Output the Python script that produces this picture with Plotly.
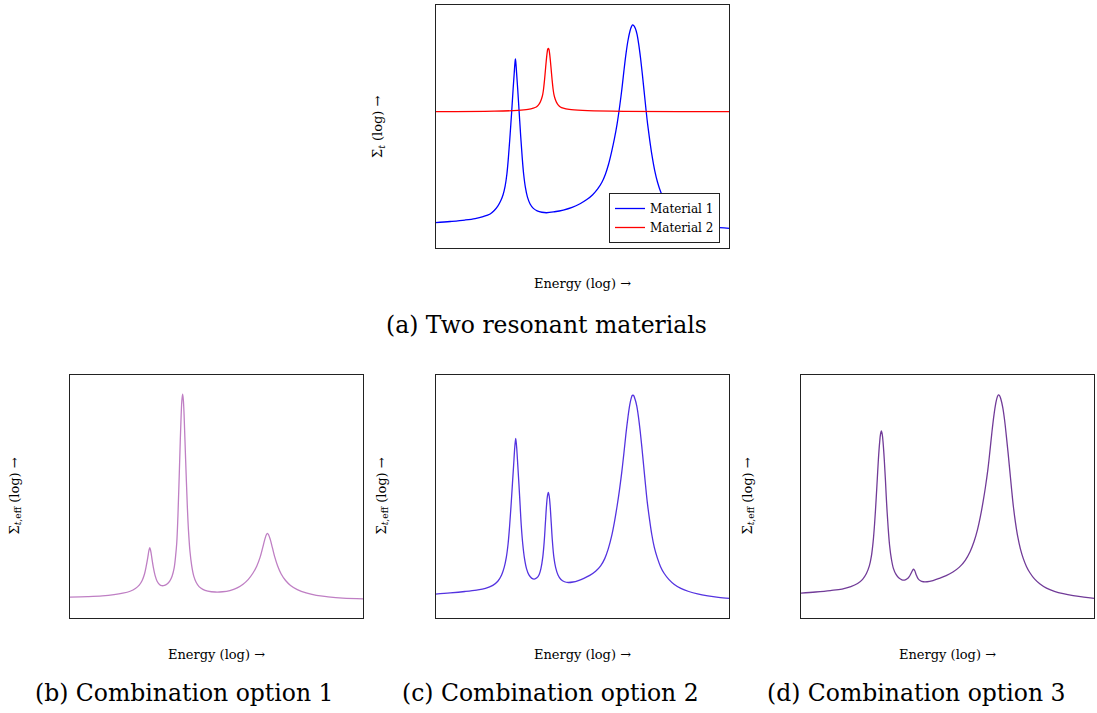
import plotly.graph_objects as go

# Normalised log-energy (0-100) and log cross-section (0-100) readings.

# (a) Material 1
m1_energy = [0, 5.0, 10.0, 13.5, 16.2, 18.6, 20.0, 21.2, 22.2, 23.0, 23.7, 24.3, 24.8, 25.3,
             25.9, 26.4, 26.8, 27.0, 27.2, 27.4, 27.6, 28.0, 28.5, 29.0, 29.5, 30.0, 30.6,
             31.3, 32.2, 33.3, 34.6, 36.2, 37.8, 40.5, 43.5, 46.5, 49.2, 51.5, 53.5, 55.2,
             56.6, 57.8, 58.9, 59.9, 60.9, 61.8, 62.6, 63.4, 64.1, 64.8, 65.5, 66.2, 66.7,
             67.1, 67.5, 68.0, 68.6, 69.2, 69.8, 70.4, 71.0, 71.6, 72.2, 72.9, 73.7, 74.6,
             75.6, 76.7, 78.0, 79.6, 81.6, 84.0, 87.0, 90.5, 94.5, 100]
m1_sigma = [10.5, 11.0, 11.6, 12.2, 13.0, 14.1, 15.5, 17.3, 19.5, 22.0, 25.5, 30.5, 37.0, 45.0,
            55.5, 65.0, 72.0, 75.5, 77.7, 75.5, 72.0, 65.0, 55.5, 46.0, 37.5, 30.5, 25.0,
            21.0, 18.2, 16.4, 15.4, 14.8, 14.6, 15.0, 15.7, 16.8, 18.3, 20.0, 22.0, 24.4,
            27.0, 30.3, 34.5, 39.4, 45.0, 51.0, 57.5, 65.0, 72.5, 79.5, 85.2, 89.2, 91.0,
            91.7, 91.4, 90.3, 87.8, 83.5, 78.0, 71.5, 64.5, 57.5, 51.0, 44.5, 38.0, 32.0,
            27.0, 23.0, 19.6, 16.7, 14.3, 12.4, 10.8, 9.6, 8.8, 8.2]

# (a) Material 2
m2_energy = [0, 20.0, 28.0, 31.5, 33.3, 34.3, 35.0, 35.6, 36.1, 36.5, 36.8, 37.1, 37.4, 37.7,
             38.0, 38.2, 38.4, 38.6, 38.8, 39.1, 39.4, 39.7, 40.0, 40.3, 40.7, 41.2, 41.8,
             42.5, 43.5, 45.5, 50.0, 60.0, 100]
m2_sigma = [56.1, 56.3, 56.6, 57.0, 57.5, 58.0, 58.8, 59.9, 61.4, 63.2, 65.6, 69.0, 73.0, 77.0,
            80.3, 81.7, 82.1, 81.7, 80.3, 77.0, 73.0, 69.0, 65.6, 63.2, 61.4, 59.9, 58.8,
            58.0, 57.5, 57.0, 56.6, 56.3, 56.1]

# (b) Combination option 1
b_energy = [0, 6.0, 11.0, 15.0, 18.0, 20.5, 22.3, 23.6, 24.6, 25.4, 26.0, 26.5, 26.9, 27.2,
            27.5, 27.9, 28.4, 29.0, 29.7, 30.5, 31.3, 32.2, 33.1, 34.0, 34.8, 35.5, 36.0,
            36.4, 36.8, 37.2, 37.6, 37.9, 38.15, 38.4, 38.65, 38.9, 39.2, 39.6, 40.0, 40.4,
            40.9, 41.5, 42.2, 43.0, 44.0, 45.3, 47.0, 49.5, 52.0, 54.5, 57.0, 59.0, 60.8,
            62.4, 63.7, 64.8, 65.7, 66.4, 66.9, 67.3, 67.7, 68.3, 69.0, 69.8, 70.8, 72.0,
            73.5, 75.2, 77.5, 80.5, 84.0, 88.0, 93.0, 100]
b_sigma = [8.7, 8.9, 9.2, 9.7, 10.3, 11.1, 12.2, 13.6, 15.5, 18.2, 21.5, 24.8, 27.8, 29.0,
           27.8, 24.8, 21.0, 17.6, 15.2, 13.9, 13.4, 13.5, 14.1, 15.3, 17.3, 20.6, 25.5,
           31.0, 42.0, 57.0, 73.0, 83.5, 89.5, 92.0, 89.5, 83.5, 73.0, 59.0, 46.0, 36.0,
           27.5, 21.5, 17.3, 14.8, 13.0, 11.9, 11.2, 10.8, 10.9, 11.4, 12.5, 14.0, 16.0,
           18.6, 21.5, 25.0, 29.0, 32.3, 34.2, 34.9, 34.3, 32.3, 29.0, 25.2, 21.5, 18.2,
           15.5, 13.5, 11.8, 10.4, 9.4, 8.8, 8.3, 8.0]

# (c) Combination option 2
c_energy = [0, 5.0, 10.0, 14.0, 17.0, 19.5, 21.2, 22.5, 23.4, 24.1, 24.7, 25.2, 25.7, 26.2,
            26.6, 27.0, 27.3, 27.6, 28.0, 28.4, 28.8, 29.2, 29.7, 30.3, 31.0, 31.8, 32.7,
            33.6, 34.5, 35.3, 35.9, 36.5, 37.0, 37.4, 37.8, 38.1, 38.4, 38.7, 39.0, 39.4,
            39.8, 40.3, 40.9, 41.7, 42.7, 43.9, 45.2, 46.8, 48.6, 50.5, 52.5, 54.5, 56.2,
            57.6, 58.8, 59.9, 60.9, 61.8, 62.6, 63.4, 64.1, 64.8, 65.5, 66.1, 66.6, 67.0,
            67.4, 67.9, 68.5, 69.1, 69.7, 70.3, 70.9, 71.5, 72.1, 72.8, 73.6, 74.5, 75.5,
            76.6, 77.8, 79.4, 81.3, 83.5, 86.2, 89.2, 92.7, 96.3, 100]
c_sigma = [9.9, 10.4, 11.0, 11.6, 12.3, 13.5, 15.2, 17.8, 21.0, 25.0, 30.5, 37.5, 46.0, 55.5,
           63.0, 70.5, 73.9, 70.5, 63.0, 55.0, 46.5, 38.0, 30.5, 24.5, 20.3, 17.8, 16.5,
           16.1, 16.6, 18.0, 20.5, 25.0, 31.5, 39.0, 46.5, 50.2, 51.7, 50.2, 46.5, 39.0,
           31.5, 25.0, 20.8, 17.8, 15.9, 15.0, 14.7, 14.9, 15.5, 16.4, 17.6, 19.3, 21.5,
           24.5, 28.5, 33.5, 39.5, 46.0, 52.5, 60.0, 67.5, 75.5, 82.5, 87.5, 90.3, 91.5,
           91.5, 90.0, 87.2, 82.5, 76.5, 69.5, 62.0, 54.5, 47.5, 41.0, 34.5, 29.0, 24.8,
           21.2, 18.5, 16.0, 13.9, 12.3, 11.0, 10.0, 9.2, 8.6, 8.2]

# (d) Combination option 3
d_energy = [0, 5.0, 10.0, 14.0, 17.0, 19.3, 21.0, 22.3, 23.3, 24.0, 24.6, 25.1, 25.6, 26.0,
            26.4, 26.8, 27.1, 27.4, 27.7, 28.0, 28.4, 28.8, 29.2, 29.7, 30.2, 30.8, 31.5,
            32.4, 33.4, 34.4, 35.3, 36.2, 36.9, 37.5, 38.0, 38.4, 38.8, 39.3, 39.9, 40.7,
            41.7, 43.0, 45.0, 47.2, 49.5, 51.8, 54.0, 56.0, 57.6, 59.0, 60.2, 61.2, 62.1,
            62.9, 63.7, 64.4, 65.1, 65.8, 66.4, 66.9, 67.3, 67.7, 68.2, 68.8, 69.4, 70.0,
            70.6, 71.2, 71.8, 72.4, 73.1, 73.9, 74.8, 75.8, 76.9, 78.1, 79.6, 81.5, 83.7,
            86.4, 89.4, 92.8, 96.4, 100]
d_sigma = [10.3, 10.8, 11.4, 12.0, 13.0, 14.3, 16.0, 18.4, 21.5, 25.5, 31.5, 39.0, 48.5, 57.0,
           65.5, 72.0, 75.5, 76.9, 75.5, 72.0, 65.0, 56.5, 47.0, 37.5, 30.0, 24.5, 20.5,
           18.0, 16.5, 15.8, 15.7, 16.2, 17.1, 18.4, 19.6, 20.2, 19.5, 17.8, 16.3, 15.4,
           15.0, 15.0, 15.5, 16.4, 17.5, 19.0, 21.0, 23.8, 27.2, 31.5, 36.5, 42.0, 48.0,
           54.0, 60.9, 68.5, 76.5, 83.5, 88.2, 90.8, 91.7, 91.4, 89.7, 86.5, 81.5, 75.0,
           68.0, 60.5, 53.0, 46.0, 39.5, 33.5, 28.5, 24.5, 21.2, 18.6, 16.2, 14.1, 12.4,
           11.1, 10.1, 9.3, 8.7, 8.2]

W, H = 1097, 713
SERIF = "DejaVu Serif, Liberation Serif, serif"

# panel boxes in pixels: (left, top, right, bottom)
boxes = {
    "a": (435.5, 4.7, 729.3, 248.3),
    "b": (70.0, 374.7, 363.3, 618.3),
    "c": (435.5, 374.7, 729.3, 618.3),
    "d": (801.0, 374.7, 1094.3, 618.3),
}

fig = go.Figure()

axis_ids = {"a": "", "b": "2", "c": "3", "d": "4"}
layout = dict(
    width=W, height=H,
    margin=dict(l=0, r=0, t=0, b=0),
    paper_bgcolor="white", plot_bgcolor="white",
    font=dict(family=SERIF, color="black"),
)
for key, (l, t, r, b) in boxes.items():
    n = axis_ids[key]
    common = dict(showline=True, mirror=True, linecolor="#222", linewidth=1,
                  showgrid=False, zeroline=False, showticklabels=False, ticks="",
                  fixedrange=True)
    layout["xaxis" + n] = dict(domain=[l / W, r / W], range=[0, 100],
                               anchor="y" + n, **common)
    layout["yaxis" + n] = dict(domain=[1 - b / H, 1 - t / H], range=[0, 100],
                               anchor="x" + n, **common)
fig.update_layout(**layout)


def add(x, y, key, color, name=None):
    n = axis_ids[key]
    fig.add_trace(go.Scatter(
        x=x, y=y, mode="lines", name=name, showlegend=name is not None,
        line=dict(color=color, width=1.3, shape="spline", smoothing=1.0),
        xaxis="x" + n, yaxis="y" + n,
    ))


add(m1_energy, m1_sigma, "a", "#0000ff", "Material 1")
add(m2_energy, m2_sigma, "a", "#ff0000", "Material 2")
add(b_energy, b_sigma, "b", "#bf7fc4")
add(c_energy, c_sigma, "c", "#5433e0")
add(d_energy, d_sigma, "d", "#713b98")

fig.update_layout(legend=dict(
    x=720 / W, y=1 - 243 / H, xanchor="right", yanchor="bottom",
    bgcolor="white", bordercolor="#222", borderwidth=1,
    font=dict(family=SERIF, size=12), itemwidth=30,
    tracegroupgap=0,
))

annotations = []


def text(x, y, s, size, angle=0):
    annotations.append(dict(
        x=x / W, y=1 - y / H, xref="paper", yref="paper", text=s,
        showarrow=False, xanchor="center", yanchor="middle",
        font=dict(family=SERIF, size=size, color="black"), textangle=angle,
    ))


# axis titles
text(582, 283, "Energy (log) →", 13)
text(379, 127, "Σ<sub><i>t</i></sub> (log) →", 13, -90)
for key, ylabel_x in (("b", 15), ("c", 382), ("d", 748)):
    l, t, r, b = boxes[key]
    text((l + r) / 2, 654, "Energy (log) →", 13)
    text(ylabel_x, (t + b) / 2, "Σ<sub><i>t</i>,eff</sub> (log) →", 13, -90)

# captions
text(546, 325, "(a) Two resonant materials", 23.5)
text(184, 693, "(b) Combination option 1", 23.5)
text(550, 693, "(c) Combination option 2", 23.5)
text(916, 693, "(d) Combination option 3", 23.5)

fig.update_layout(annotations=annotations)
fig.write_html("out.html")
